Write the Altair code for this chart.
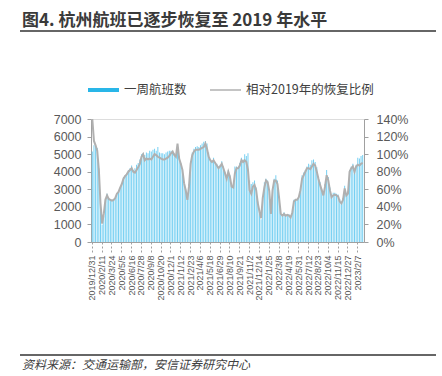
import altair as alt
import pandas as pd

# ---- data ----
start_date = "2019-12-31"
n_weeks = 166

weekly_flights = [
    5150, 5500, 5450, 5350, 4200, 2200, 1000, 1500, 2500, 2750,
    2500, 2400, 2400, 2450, 2500, 2750, 2850, 3100, 3300, 3700,
    3800, 3900, 4100, 4200, 4350, 4100, 4200, 4400, 4500, 4700,
    5000, 5050, 4950, 5100, 5050, 5200, 5150, 5250, 5300, 5200,
    5400, 5100, 5050, 5050, 5000, 5100, 5150, 5200, 5200, 5100,
    5050, 4950, 5500, 4900, 4500, 4100, 3300, 3000, 2400, 3300,
    4600, 5100, 5300, 5400, 5450, 5400, 5500, 5600, 5700, 5750,
    5600, 5100, 4700, 4600, 4800, 4550, 4450, 4300, 4400, 4600,
    4300, 4000, 3600, 4100, 3800, 3200, 3100, 4300, 4300, 4200,
    4500, 4800, 4700, 5000, 4900, 5050, 3500, 3300, 3400, 3500,
    3100, 2300, 1600, 1300, 2600, 3400, 3600, 3500, 3000, 1600,
    3100, 3600, 3800, 3500, 2600, 1600, 1600, 1700, 1550, 1600,
    1580, 1500, 1700, 2400, 2450, 2450, 2600, 3000, 3800, 3950,
    4100, 4300, 4450, 4400, 4650, 4700, 4550, 4250, 3700, 3400,
    3000, 2800, 3300, 4100, 3700, 3100, 2700, 2800, 2800, 2750,
    2700, 2450, 2300, 2500, 3200, 2800, 2900, 4100, 4300, 4450,
    4150, 4400, 4800, 4750, 4900, 4950,
]

recovery_pct = [
    140, 115, 110, 104, 82, 44, 21, 32, 48, 53,
    49, 48, 47, 48, 50, 55, 57, 62, 66, 72,
    75, 77, 80, 82, 84, 80, 79, 82, 85, 89,
    97, 100, 93, 95, 94, 95, 94, 97, 100, 99,
    97, 96, 95, 94, 94, 95, 96, 98, 101, 103,
    99, 97, 112, 95, 89, 82, 67, 59, 48, 63,
    89, 99, 103, 105, 105, 105, 106, 107, 108, 112,
    106, 97, 93, 91, 93, 90, 87, 84, 86, 89,
    84, 78, 72, 80, 74, 63, 62, 78, 84, 84,
    87, 93, 91, 93, 91, 82, 59, 55, 63, 65,
    59, 44, 35, 27, 50, 62, 70, 68, 58, 32,
    59, 70, 70, 66, 50, 32, 30, 32, 30, 31,
    30, 28, 33, 46, 48, 48, 51, 59, 72, 76,
    80, 84, 84, 83, 86, 89, 87, 80, 72, 65,
    59, 53, 63, 76, 70, 59, 51, 53, 54, 53,
    52, 46, 44, 48, 61, 53, 55, 80, 84, 86,
    80, 86, 88, 87, 89, 90,
]

dates = [f"{d.year}/{d.month}/{d.day}" for d in pd.date_range(start_date, periods=n_weeks, freq="7D")]
label_dates = dates[0:163:6]

title_text = "图4. 杭州航班已逐步恢复至 2019 年水平"
legend_bar = "一周航班数"
legend_line = "相对2019年的恢复比例"
source_text = "资料来源：交通运输部，安信证券研究中心"

df = pd.DataFrame({
    "date": dates,
    "flights": weekly_flights,
    "ratio": [v / 100 for v in recovery_pct],
})

W, H = 273, 123
LEFT, TOP = 91, 119
GREY = "#595959"
AX = "#A0A0A0"
FONT = "Liberation Sans"
CJK = "Noto Sans CJK SC"

x_axis = alt.Axis(
    values=label_dates, title=None, labelAngle=-90, labelFontSize=9,
    labelColor=GREY, labelFont=FONT, tickSize=10, tickDash=[2, 2],
    tickColor=AX, domainColor=AX, labelPadding=3, labelAlign="right",
    labelBaseline="middle", labelOverlap=False,
)
x_enc = alt.X(
    "date:N",
    sort=dates,
    scale=alt.Scale(paddingInner=0.4, paddingOuter=0.5),
    axis=x_axis,
)

bars = alt.Chart(df).mark_bar(color="#74CFF2").encode(
    x=x_enc,
    y=alt.Y(
        "flights:Q",
        scale=alt.Scale(domain=[0, 7000]),
        axis=alt.Axis(
            values=list(range(0, 7001, 1000)), format="d", title=None, grid=False,
            labelFontSize=12.5, labelColor=GREY, labelFont=FONT,
            tickSize=4, tickColor=AX, domainColor=AX, labelPadding=6,
        ),
    ),
)

line = alt.Chart(df).mark_line(color="#B0B0B0", strokeWidth=2).encode(
    x=x_enc,
    y=alt.Y(
        "ratio:Q",
        scale=alt.Scale(domain=[0, 1.4]),
        axis=alt.Axis(
            orient="right", values=[0, 0.2, 0.4, 0.6, 0.8, 1.0, 1.2, 1.4],
            format=".0%", title=None, grid=False, labelFontSize=12.5,
            labelColor=GREY, labelFont=FONT, tickSize=4, tickColor=AX,
            domainColor=AX, labelPadding=8,
        ),
    ),
)

one = pd.DataFrame({"k": [0]})

title_mark = alt.Chart(one).mark_text(
    text=title_text, font=CJK, fontSize=17, fontWeight="bold",
    color="#3A3A3A", align="left", baseline="alphabetic",
).encode(x=alt.value(22 - LEFT), y=alt.value(26 - TOP))

title_rule = alt.Chart(one).mark_rule(color="#333333", strokeWidth=1.5).encode(
    x=alt.value(20 - LEFT), x2=alt.value(436 - LEFT), y=alt.value(31 - TOP)
)

leg_swatch = alt.Chart(one).mark_rule(color="#29B6E8", strokeWidth=4).encode(
    x=alt.value(88 - LEFT), x2=alt.value(119 - LEFT), y=alt.value(90 - TOP)
)
leg_text1 = alt.Chart(one).mark_text(
    text=legend_bar, font=CJK, fontSize=12.5, color="#404040",
    align="left", baseline="middle",
).encode(x=alt.value(124 - LEFT), y=alt.value(90 - TOP))
leg_line = alt.Chart(one).mark_rule(color="#B0B0B0", strokeWidth=1.5).encode(
    x=alt.value(210 - LEFT), x2=alt.value(241 - LEFT), y=alt.value(90 - TOP)
)
leg_text2 = alt.Chart(one).mark_text(
    text=legend_line, font=CJK, fontSize=12.5, color="#404040",
    align="left", baseline="middle",
).encode(x=alt.value(246 - LEFT), y=alt.value(90 - TOP))

src_rule = alt.Chart(one).mark_rule(color="#333333", strokeWidth=1.5).encode(
    x=alt.value(20 - LEFT), x2=alt.value(436 - LEFT), y=alt.value(355 - TOP)
)
src_text = alt.Chart(one).mark_text(
    text=source_text, font=CJK, fontSize=12, fontStyle="italic",
    color="#404040", align="left", baseline="middle",
).encode(x=alt.value(22 - LEFT), y=alt.value(365 - TOP))

main = alt.layer(bars, line).resolve_scale(y="independent")

chart = alt.layer(
    main, title_mark, title_rule, leg_swatch, leg_text1, leg_line, leg_text2,
    src_rule, src_text,
).properties(
    width=W, height=H,
    autosize=alt.AutoSizeParams(type="none"),
    padding={"left": LEFT, "top": TOP, "right": 442 - LEFT - W, "bottom": 376 - TOP - H},
).configure_view(stroke=None).configure(background="white")

chart.save("out.html", embed_options={"renderer": "svg", "actions": False})
